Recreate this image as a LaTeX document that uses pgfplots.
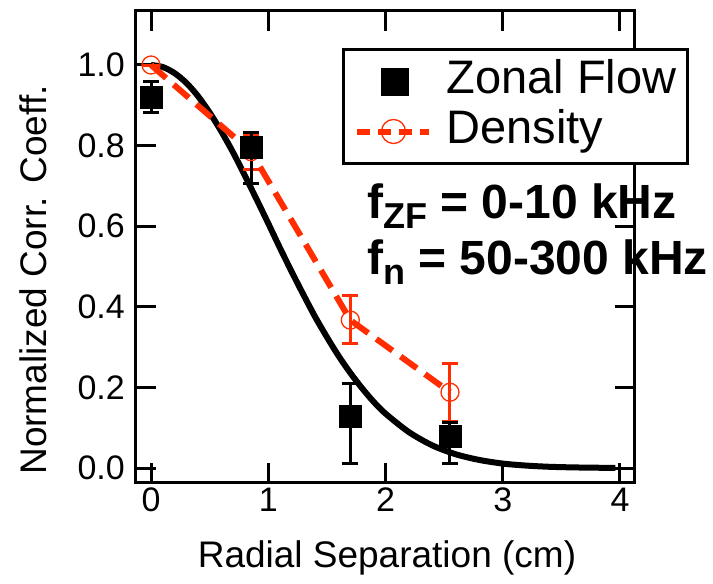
\documentclass[border=0pt]{standalone}
\usepackage{fontspec}
\setmainfont{Liberation Sans}
\usepackage{pgfplots}
\pgfplotsset{compat=1.18}
\definecolor{dred}{RGB}{255,45,0}
\begin{document}
\begin{tikzpicture}[x=1pt,y=1pt]
\useasboundingbox (0,0) rectangle (713,584);
\begin{axis}[
  at={(136pt,101pt)}, anchor=south west,
  scale only axis, width=499pt, height=472pt,
  xmin=-0.128, xmax=4.128, ymin=-0.0372, ymax=1.134,
  xtick={0,1,2,3,4}, ytick={0,0.2,0.4,0.6,0.8,1.0},
  yticklabel style={/pgf/number format/fixed, /pgf/number format/fixed zerofill, /pgf/number format/precision=1},
  /pgf/number format/assume math mode=true,
  tick align=inside, major tick length=20pt,
  every tick/.style={black, line width=3pt},
  axis line style={line width=3pt},
  x tick label style={font=\fontsize{34}{40}\selectfont, inner sep=0pt, yshift=-5pt},
  y tick label style={font=\fontsize{34}{40}\selectfont, inner sep=0pt, xshift=-11pt},
  xlabel={Radial Separation (cm)},
  ylabel={Normalized Corr. Coeff.},
  every axis x label/.style={at={(axis description cs:0.503,-0.159)}, anchor=center, font=\fontsize{37}{40}\selectfont, inner sep=0pt},
  every axis y label/.style={at={(axis description cs:-0.206,0.43)}, rotate=90, anchor=center, font=\fontsize{37}{40}\selectfont, inner sep=0pt},
  clip=false,
  legend cell align=left,
  reverse legend,
  legend style={at={(axis description cs:0.4128,0.9216)}, anchor=north west,
    draw=black, line width=3pt, fill=white, inner xsep=11pt, inner ysep=10pt,
    row sep=6pt, column sep=14pt,
    font=\fontsize{47}{50}\selectfont,
    nodes={inner sep=0pt, text height=34pt, text depth=10pt}},
]
% Gaussian fit curve
\addplot[black, line width=6pt, smooth, forget plot] coordinates {
(0,1.000) (0.1,0.995) (0.2,0.980) (0.3,0.956) (0.4,0.923) (0.5,0.882)
(0.6,0.835) (0.7,0.783) (0.8,0.726) (0.9,0.667) (1.0,0.607) (1.1,0.546)
(1.2,0.487) (1.3,0.430) (1.4,0.375) (1.5,0.325) (1.6,0.278) (1.7,0.236)
(1.8,0.198) (1.9,0.164) (2.0,0.135) (2.2,0.089) (2.4,0.056) (2.6,0.034)
(2.8,0.020) (3.0,0.011) (3.2,0.006) (3.4,0.003) (3.6,0.0015) (3.8,0.0007) (3.96,0.0003)
};
% Density
\addplot[dred, line width=6pt, dash pattern=on 20pt off 10pt,
  mark=o, mark size=9pt, mark options={solid, line width=1.3pt, dred},
  legend image code/.code={
    \draw[dred, line width=6pt, dash pattern=on 13pt off 8pt] (0pt,0pt) -- (72pt,0pt);
    \draw[dred, solid, line width=1.3pt] (36pt,0pt) circle (12pt);},
  error bars/.cd, y dir=both, y explicit,
  error bar style={solid, line width=3pt, dred},
  error mark options={rotate=90, mark size=8pt, line width=3pt, dred}]
coordinates {
(0,1.000) += (0,0) -= (0,0)
(0.853,0.785) += (0,0.040) -= (0,0.045)
(1.70,0.367) += (0,0.061) -= (0,0.057)
(2.55,0.188) += (0,0.072) -= (0,0.073)
};
% Zonal flow
\addplot[only marks, mark=square*, mark size=11pt, black,
  legend image code/.code={
    \fill[black] (25pt,-12.5pt) rectangle (50pt,12.5pt);},
  error bars/.cd, y dir=both, y explicit,
  error bar style={line width=3pt, black},
  error mark options={rotate=90, mark size=8pt, line width=3pt, black}]
coordinates {
(0,0.921) += (0,0.039) -= (0,0.039)
(0.853,0.795) += (0,0.038) -= (0,0.090)
(1.70,0.129) += (0,0.081) -= (0,0.117)
(2.55,0.080) += (0,0.033) -= (0,0.068)
};
\legend{Density, Zonal Flow}
\node[anchor=base west, inner sep=0pt, font=\bfseries\fontsize{48}{48}\selectfont] at (axis cs:1.842,0.620)
  {f\raisebox{-10pt}{\fontsize{36}{36}\selectfont ZF} = 0-10 kHz};
\node[anchor=base west, inner sep=0pt, font=\bfseries\fontsize{48}{48}\selectfont] at (axis cs:1.842,0.479)
  {f\raisebox{-10pt}{\fontsize{36}{36}\selectfont n} = 50-300 kHz};
\end{axis}
\end{tikzpicture}
\end{document}
